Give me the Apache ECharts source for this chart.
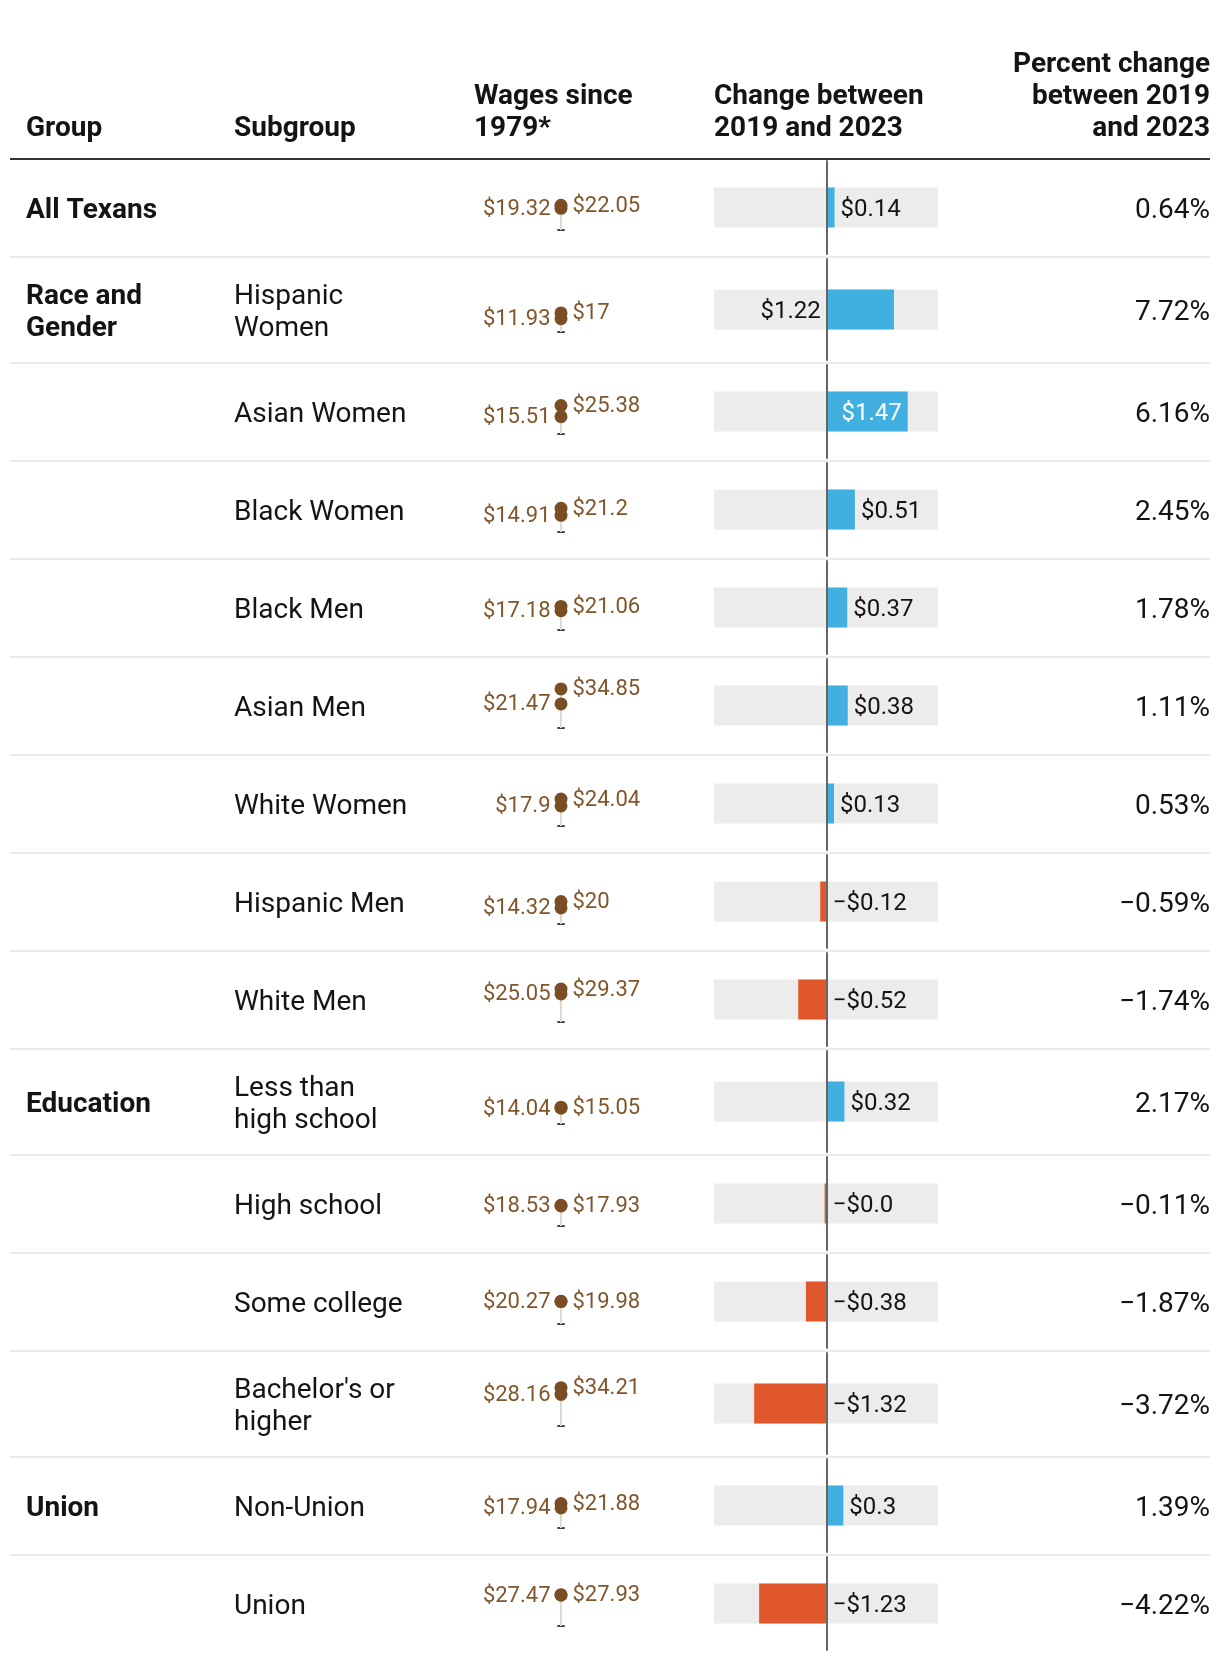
<!DOCTYPE html>
<html>
<head>
<meta charset="utf-8">
<script src="https://cdn.jsdelivr.net/npm/echarts@6/dist/echarts.min.js"></script>
<style>
html,body{margin:0;padding:0;background:#fff;}
#chart{width:1220px;height:1662px;}
</style>
</head>
<body>
<div id="chart"></div>
<script>
// ---------- DATA ----------
const groups = ["All Texans", "Race and\nGender", "", "", "", "", "", "", "", "Education", "", "", "", "Union", ""];
const subgroups = ["", "Hispanic\nWomen", "Asian Women", "Black Women", "Black Men", "Asian Men", "White Women", "Hispanic Men", "White Men", "Less than\nhigh school", "High school", "Some college", "Bachelor's or\nhigher", "Non-Union", "Union"];
const wages1979 = [19.32, 11.93, 15.51, 14.91, 17.18, 21.47, 17.9, 14.32, 25.05, 14.04, 18.53, 20.27, 28.16, 17.94, 27.47];
const wages2023 = [22.05, 17, 25.38, 21.2, 21.06, 34.85, 24.04, 20, 29.37, 15.05, 17.93, 19.98, 34.21, 21.88, 27.93];
const change = [0.14, 1.22, 1.47, 0.51, 0.37, 0.38, 0.13, -0.12, -0.52, 0.32, -0.04, -0.38, -1.32, 0.3, -1.23];
const changeLabels = ["$0.14", "$1.22", "$1.47", "$0.51", "$0.37", "$0.38", "$0.13", "\u2212$0.12", "\u2212$0.52", "$0.32", "\u2212$0.0", "\u2212$0.38", "\u2212$1.32", "$0.3", "\u2212$1.23"];
const percentChange = [0.64, 7.72, 6.16, 2.45, 1.78, 1.11, 0.53, -0.59, -1.74, 2.17, -0.11, -1.87, -3.72, 1.39, -4.22];
const headers = ["Group", "Subgroup", "Wages since\n1979*", "Change between\n2019 and 2023", "Percent change\nbetween 2019\nand 2023"];

// ---------- LAYOUT ----------
const FONT = 'Roboto';
const TXT = '#141414';
const rowH = [98, 106, 98, 98, 98, 98, 98, 98, 98, 106, 98, 98, 106, 98, 98];
const tableTop = 159;
const rowTop = [];
{ let y = tableTop; for (const h of rowH) { rowTop.push(y); y += h; } }
const colX = { group: 26, sub: 234, wages: 474, change: 714, pctRight: 1210 };
const textDy = 3;
const barLeft = 714, barWidthPx = 224, xMin = -2.05, xMax = 2.02, barH = 40;
const pxPerUnit = barWidthPx / (xMax - xMin);
const zeroPx = barLeft + (-xMin) * pxPerUnit;
const dotX = 561, miniScale = 1.12, miniMax = 40, miniBaseOff = 22;
const BLUE = '#41b0e1', RED = '#e0572b', BROWN = '#7a4e24', BROWN_TXT = '#80562c';
const BAR_FS = 24, WAGE_FS = 22;

const measureCtx = document.createElement('canvas').getContext('2d');
function textW(t, size) { measureCtx.font = size + 'px ' + FONT; return measureCtx.measureText(t).width; }

const grids = [], xAxes = [], yAxes = [], series = [], graphics = [];

function txt(x, y, text, opts) {
  const o = Object.assign({ size: 28, weight: 'normal', align: 'left', valign: 'middle', lh: 32, fill: TXT }, opts || {});
  graphics.push({
    type: 'text', x: x, y: y + textDy, silent: true,
    style: {
      text: text, fill: o.fill, fontSize: o.size, fontWeight: o.weight, fontFamily: FONT,
      align: o.align, verticalAlign: o.valign, textAlign: o.align, textVerticalAlign: o.valign, lineHeight: o.lh
    }
  });
}
txt(colX.group, 142, headers[0], { weight: 'bold', valign: 'bottom' });
txt(colX.sub, 142, headers[1], { weight: 'bold', valign: 'bottom' });
txt(colX.wages, 142, headers[2], { weight: 'bold', valign: 'bottom' });
txt(colX.change, 142, headers[3], { weight: 'bold', valign: 'bottom' });
txt(colX.pctRight, 142, headers[4], { weight: 'bold', valign: 'bottom', align: 'right' });
graphics.push({ type: 'line', silent: true, shape: { x1: 10, y1: tableTop, x2: 1210, y2: tableTop }, style: { stroke: '#333', lineWidth: 2 } });

for (let i = 0; i < rowH.length; i++) {
  const top = rowTop[i], h = rowH[i], cy = top + h / 2;
  if (i > 0) graphics.push({ type: 'line', silent: true, shape: { x1: 10, y1: top, x2: 1210, y2: top }, style: { stroke: '#ebebeb', lineWidth: 2 } });
  if (groups[i]) txt(colX.group, cy, groups[i], { weight: 'bold' });
  if (subgroups[i]) txt(colX.sub, cy, subgroups[i]);
  const p = percentChange[i];
  txt(colX.pctRight, cy, (p < 0 ? '\u2212' : '') + Math.abs(p).toFixed(2) + '%', { align: 'right' });

  // ---- change bar grid ----
  const gi = grids.length;
  grids.push({ left: barLeft, width: barWidthPx, top: top + 2, height: h - 5 });
  xAxes.push({ gridIndex: gi, type: 'value', min: xMin, max: xMax, show: false });
  yAxes.push({
    gridIndex: gi, type: 'category', data: [''], z: 10,
    axisLine: { show: true, onZero: true, lineStyle: { color: '#666', width: 2 } },
    axisTick: { show: false }, axisLabel: { show: false }, splitLine: { show: false }
  });
  const v = change[i];
  const lw = textW(changeLabels[i], BAR_FS);
  let pos = 'right', col = TXT;
  if (v > 0) {
    const endPx = zeroPx + v * pxPerUnit;
    if (endPx + 6 + lw <= barLeft + barWidthPx) { pos = 'right'; }
    else if (v * pxPerUnit >= lw + 12) { pos = 'insideRight'; col = '#fff'; }
    else { pos = 'left'; }
  }
  series.push({
    type: 'bar', xAxisIndex: gi, yAxisIndex: gi, barWidth: barH,
    showBackground: true, backgroundStyle: { color: '#ececec' },
    data: [{
      value: v, itemStyle: { color: v >= 0 ? BLUE : RED },
      label: { show: true, position: pos, distance: 6, offset: [0, 2], color: col, fontSize: BAR_FS, fontFamily: FONT, formatter: changeLabels[i] }
    }]
  });

  // ---- wages mini chart ----
  const mi = grids.length;
  const base = cy + miniBaseOff;
  grids.push({ left: dotX - 3, width: 6, top: base - miniMax * miniScale, height: miniMax * miniScale });
  xAxes.push({
    gridIndex: mi, type: 'value', min: -1, max: 1,
    axisLine: { show: true, onZero: true, lineStyle: { color: '#444', width: 2 } },
    axisTick: { show: false }, axisLabel: { show: false }, splitLine: { show: false }
  });
  yAxes.push({ gridIndex: mi, type: 'value', min: 0, max: miniMax, show: false });
  const a = wages1979[i], b = wages2023[i];
  series.push({
    type: 'line', xAxisIndex: mi, yAxisIndex: mi, symbol: 'none', silent: true, z: 1,
    lineStyle: { color: '#e0d9ce', width: 2 }, data: [[0, 0], [0, Math.max(a, b)]]
  });
  series.push({
    type: 'scatter', xAxisIndex: mi, yAxisIndex: mi, symbolSize: 13, z: 3,
    itemStyle: { color: BROWN, opacity: 1 },
    label: { show: true, position: 'left', distance: 4, offset: [0, 1], color: BROWN_TXT, fontSize: WAGE_FS, fontFamily: FONT, formatter: () => '$' + a },
    data: [[0, a]]
  });
  series.push({
    type: 'scatter', xAxisIndex: mi, yAxisIndex: mi, symbolSize: 13, z: 3,
    itemStyle: { color: BROWN, opacity: 1 },
    label: { show: true, position: 'right', distance: 5, offset: [0, 1], color: BROWN_TXT, fontSize: WAGE_FS, fontFamily: FONT, formatter: () => '$' + b },
    data: [[0, b]]
  });
}

const chart = echarts.init(document.getElementById('chart'), null, { renderer: 'canvas' });
chart.setOption({
  animation: false,
  backgroundColor: '#fff',
  textStyle: { fontFamily: FONT },
  grid: grids, xAxis: xAxes, yAxis: yAxes, series: series,
  graphic: { elements: graphics }
});
</script>
</body>
</html>
